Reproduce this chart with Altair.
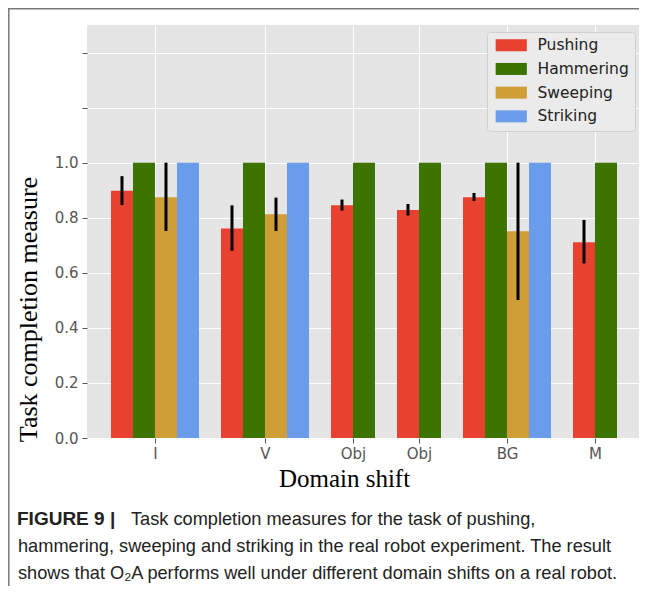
import altair as alt
import pandas as pd

# ---- data ----
groups = ["I", "V", "Obj", "Obj", "BG", "M"]
group_pos = [3, 8, 12, 15, 19, 23]
tasks = ["Pushing", "Hammering", "Sweeping", "Striking"]
colors = ["#e8412f", "#3d7400", "#d09e36", "#6a9ceb"]

pushing = [0.898, 0.761, 0.845, 0.828, 0.874, 0.711]
pushing_lo = [0.846, 0.680, 0.826, 0.808, 0.861, 0.634]
pushing_hi = [0.951, 0.845, 0.866, 0.850, 0.890, 0.792]
hammering = [1.0, 1.0, 1.0, 1.0, 1.0, 1.0]
sweeping = [0.874, 0.813, None, None, 0.751, None]
sweeping_lo = [0.752, 0.752, None, None, 0.501, None]
sweeping_hi = [1.0, 0.873, None, None, 1.0, None]
striking = [1.0, 1.0, None, None, 1.0, None]

y_ticks = [0.0, 0.2, 0.4, 0.6, 0.8, 1.0, 1.2, 1.4]

caption_bold = "FIGURE 9 |"
caption_lines = [
    "Task completion measures for the task of pushing,",
    "hammering, sweeping and striking in the real robot experiment. The result",
    "shows that O\u2082A performs well under different domain shifts on a real robot.",
]

# ---- build tables ----
values = {"Pushing": pushing, "Hammering": hammering, "Sweeping": sweeping, "Striking": striking}
lows = {"Pushing": pushing_lo, "Sweeping": sweeping_lo}
highs = {"Pushing": pushing_hi, "Sweeping": sweeping_hi}

rows, err_rows = [], []
for i, (g, p) in enumerate(zip(groups, group_pos)):
    present = [t for t in tasks if values[t][i] is not None]
    n = len(present)
    for k, t in enumerate(present):
        x0 = p - n / 2 + k
        rows.append({"group": g, "task": t, "x": x0, "x2": x0 + 1,
                     "value": values[t][i], "zero": 0.0})
        if t in lows and lows[t][i] is not None:
            err_rows.append({"xc": x0 + 0.5, "lo": lows[t][i], "hi": highs[t][i]})

bars_df = pd.DataFrame(rows)
err_df = pd.DataFrame(err_rows)

label_expr = "".join(f"datum.value == {p} ? '{g}' : " for g, p in zip(groups, group_pos)) + "''"

xscale = alt.Scale(domain=[-0.09, 25.0], nice=False, zero=False)
yscale = alt.Scale(domain=[0, 1.5], nice=False)

bars = alt.Chart(bars_df).mark_rect(stroke=None).encode(
    x=alt.X("x:Q", scale=xscale,
            axis=alt.Axis(values=group_pos, labelExpr=label_expr, title="Domain shift",
                          grid=True, gridColor="white", gridWidth=1, domain=False,
                          tickColor="#555", tickSize=5, labelColor="#555",
                          labelFont="DejaVu Sans", labelFontSize=15, labelPadding=3,
                          titleFont="Liberation Serif", titleFontSize=25, titleFontWeight="normal",
                          titleColor="black", titleX=257, titleY=40, titleBaseline="middle")),
    x2="x2:Q",
    y=alt.Y("value:Q", scale=yscale,
            axis=alt.Axis(values=y_ticks,
                          labelExpr="datum.value <= 1.0001 ? format(datum.value, '.1f') : ''",
                          title="Task completion measure", grid=True, gridColor="white",
                          gridWidth=1, domain=False, tickColor="#555", tickSize=5,
                          labelColor="#555", labelFont="DejaVu Sans", labelFontSize=15,
                          labelPadding=4,
                          titleFont="Liberation Serif", titleFontSize=26, titleFontWeight="normal",
                          titleColor="black", titleX=-59, titleY=284, titleBaseline="middle",
                          titleAlign="center")),
    y2="zero:Q",
    color=alt.Color("task:N", scale=alt.Scale(domain=tasks, range=colors),
                    legend=alt.Legend(title=None, orient="none", legendX=400, legendY=7,
                                      fillColor="#ebebeb", strokeColor="#d0d0d0",
                                      padding=5.5, cornerRadius=3,
                                      symbolType="M-2.6,-1H2.6V1H-2.6Z", symbolSize=144,
                                      symbolOffset=11, symbolStrokeWidth=0, symbolOpacity=1,
                                      labelFont="DejaVu Sans", labelFontSize=15.5,
                                      labelColor="#222", labelOffset=18.5, rowPadding=6.7)),
)

errs = alt.Chart(err_df).mark_rule(color="black", strokeWidth=3).encode(
    x=alt.X("xc:Q", scale=xscale), y=alt.Y("lo:Q", scale=yscale), y2="hi:Q"
)

frame_df = pd.DataFrame({"a": [0]})
frame_top = alt.Chart(frame_df).mark_rule(color="#777", strokeWidth=1.5).encode(
    x=alt.value(-79), x2=alt.value(560), y=alt.value(-16.2)
)
frame_left = alt.Chart(frame_df).mark_rule(color="#777", strokeWidth=1.5).encode(
    x=alt.value(-78.2), y=alt.value(-17), y2=alt.value(570)
)

cap_bold = alt.Chart(frame_df).mark_text(
    text=caption_bold, font="Liberation Sans", fontWeight="bold", fontSize=19,
    align="left", baseline="alphabetic", color="#222"
).encode(x=alt.value(-70), y=alt.value(500))

cap_x = [44, -69, -69]
cap_y = [500, 527, 554]
cap_layers = []
for line, cx, cy in zip(caption_lines, cap_x, cap_y):
    cap_layers.append(
        alt.Chart(frame_df).mark_text(
            text=line, font="Liberation Sans", fontSize=18.2, align="left",
            baseline="alphabetic", color="#222"
        ).encode(x=alt.value(cx), y=alt.value(cy))
    )

chart = alt.layer(bars, errs, frame_top, frame_left, cap_bold, *cap_layers).properties(
    width=552, height=413,
    background="white",
    autosize=alt.AutoSizeParams(type="none"),
    padding={"left": 79, "top": 17, "right": 0, "bottom": 148},
).configure_view(fill="#e5e5e5", stroke=None)

chart.save("out.html", embed_options={"renderer": "svg", "actions": False})
